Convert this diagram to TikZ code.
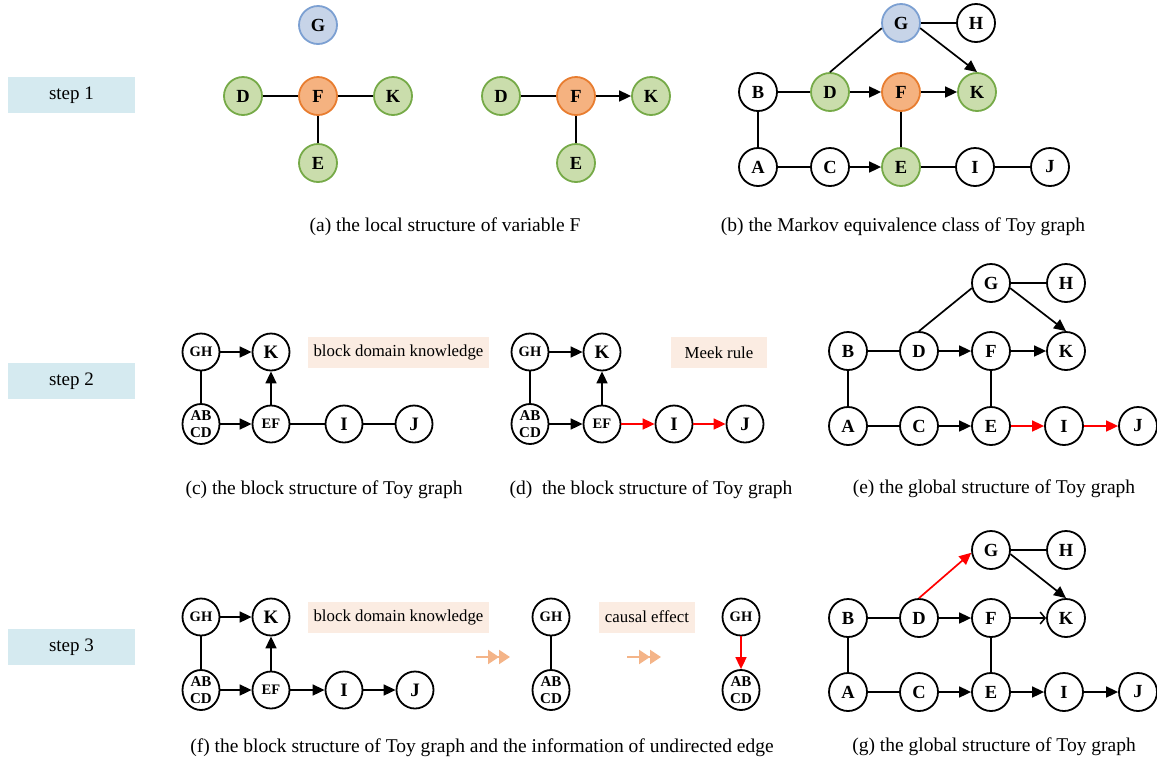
\documentclass[tikz,border=0pt]{standalone}
\usepackage{fontspec}
\setmainfont{Liberation Serif}
\usetikzlibrary{arrows.meta,shapes.geometric}
\definecolor{grfill}{RGB}{202,221,172}
\definecolor{grline}{RGB}{118,170,72}
\definecolor{orfill}{RGB}{245,178,128}
\definecolor{orline}{RGB}{232,125,48}
\definecolor{blfill}{RGB}{199,212,232}
\definecolor{blline}{RGB}{124,160,210}
\definecolor{stepfill}{RGB}{213,234,240}
\definecolor{peach}{RGB}{251,236,226}
\definecolor{orarrow}{RGB}{244,180,136}
\tikzset{
  nd/.style={circle,draw=black,fill=white,line width=1.8pt,minimum size=38pt,inner sep=0pt,
    font=\bfseries\fontsize{18.5}{18.5}\selectfont},
  bn/.style={circle,draw=black,fill=white,line width=1.8pt,minimum size=37pt,inner sep=0pt,
    font=\bfseries\fontsize{14.5}{14.5}\selectfont},
  bk/.style={bn,font=\bfseries\fontsize{19}{19}\selectfont},
  bab/.style={ellipse,draw=black,fill=white,line width=1.8pt,minimum width=37pt,minimum height=40pt,inner sep=0pt,
    font=\bfseries\fontsize{15}{16.5}\selectfont,align=center},
  gr/.style={fill=grfill,draw=grline},
  orn/.style={fill=orfill,draw=orline},
  bln/.style={fill=blfill,draw=blline},
  ln/.style={line width=1.7pt},
  ar/.style={ln,-{Triangle[length=12pt,width=11pt]}},
  oa/.style={ln,-{Straight Barb[length=5pt,width=12pt,line width=1.5pt]}},
  rar/.style={ar,red},
  stepbox/.style={fill=stepfill,minimum width=127pt,minimum height=36pt,inner sep=0pt,
    font=\fontsize{19}{19}\selectfont},
  infobox/.style={fill=peach,minimum height=31pt,inner sep=0pt,font=\fontsize{16.8}{16.8}\selectfont},
  captxt/.style={font=\fontsize{19.5}{19.5}\selectfont,inner sep=0pt},
  orar/.style={draw=orarrow,line width=2.2pt,-{Triangle[length=11pt,width=14pt,fill=orarrow]Triangle[length=11pt,width=14pt,fill=orarrow]}}
}
\begin{document}
\begin{tikzpicture}[x=1pt,y=-1pt]
\useasboundingbox (0,0) rectangle (1157,761);
% step boxes
\node[stepbox] (s1) at (71.5,95) {step 1};
\node[stepbox] (s2) at (71.5,381) {step 2};
\node[stepbox] (s3) at (71.5,647) {step 3};

% ---------- (a)
\node[nd,bln] (aG) at (318,25) {G};
\node[nd,gr] (aD) at (243,96) {D};
\node[nd,orn] (aF) at (318,96) {F};
\node[nd,gr] (aK) at (393,96) {K};
\node[nd,gr] (aE) at (318,163) {E};
\draw[ln] (aD) -- (aF);
\draw[ln] (aF) -- (aK);
\draw[ln] (aF) -- (aE);
\node[nd,gr] (a2D) at (501,96) {D};
\node[nd,orn] (a2F) at (576,96) {F};
\node[nd,gr] (a2K) at (651,96) {K};
\node[nd,gr] (a2E) at (576,163) {E};
\draw[ln] (a2D) -- (a2F);
\draw[ar] (a2F) -- (a2K);
\draw[ln] (a2F) -- (a2E);
\node[captxt] (capa) at (445,227) {(a) the local structure of variable F};

% ---------- (b)
\node[nd,bln] (bG) at (901,23) {G};
\node[nd] (bH) at (976,23) {H};
\node[nd] (bB) at (758,92) {B};
\node[nd,gr] (bD) at (830,92) {D};
\node[nd,orn] (bF) at (901,92) {F};
\node[nd,gr] (bK) at (977,92) {K};
\node[nd] (bA) at (758,167) {A};
\node[nd] (bC) at (830,167) {C};
\node[nd,gr] (bE) at (901,167) {E};
\node[nd] (bI) at (975,167) {I};
\node[nd] (bJ) at (1050,167) {J};
\draw[ln] (bG) -- (bH);
\draw[ln] (bD.north) -- (bG.195);
\draw[ar] (bG.-15) -- (bK.north);
\draw[ln] (bB) -- (bD);
\draw[ar] (bD) -- (bF);
\draw[ar] (bF) -- (bK);
\draw[ln] (bB) -- (bA);
\draw[ln] (bF) -- (bE);
\draw[ln] (bA) -- (bC);
\draw[ar] (bC) -- (bE);
\draw[ln] (bE) -- (bI);
\draw[ln] (bI) -- (bJ);
\node[captxt] (capb) at (903,227) {(b) the Markov equivalence class of Toy graph};

% ---------- (c)
\node[bn] (cGH) at (201,352) {GH};
\node[bk] (cK) at (271,352) {K};
\node[bab] (cAB) at (201,424) {AB\\CD};
\node[bn] (cEF) at (271,424) {EF};
\node[bk] (cI) at (344,424) {I};
\node[bk] (cJ) at (414,424) {J};
\draw[ar] (cGH) -- (cK);
\draw[ln] (cGH) -- (cAB);
\draw[ar] (cAB) -- (cEF);
\draw[ar] (cEF) -- (cK);
\draw[ln] (cEF) -- (cI);
\draw[ln] (cI) -- (cJ);
\node[infobox,minimum width=181pt] (cbox) at (398.5,352.5) {block domain knowledge};
\node[captxt] (capc) at (324,490) {(c) the block structure of Toy graph};

% ---------- (d)
\node[bn] (dGH) at (530,352) {GH};
\node[bk] (dK) at (602,352) {K};
\node[bab] (dAB) at (530,424) {AB\\CD};
\node[bn] (dEF) at (602,424) {EF};
\node[bk] (dI) at (674,424) {I};
\node[bk] (dJ) at (745,424) {J};
\draw[ar] (dGH) -- (dK);
\draw[ln] (dGH) -- (dAB);
\draw[ar] (dAB) -- (dEF);
\draw[ar] (dEF) -- (dK);
\draw[rar] (dEF) -- (dI);
\draw[rar] (dI) -- (dJ);
\node[infobox,minimum width=96pt] (dbox) at (719,352.5) {Meek rule};
\node[captxt] (capd) at (651,490) {(d)\ \ the block structure of Toy graph};

% ---------- (e)
\node[nd] (eG) at (991,283) {G};
\node[nd] (eH) at (1066,283) {H};
\node[nd] (eB) at (848,351) {B};
\node[nd] (eD) at (919,351) {D};
\node[nd] (eF) at (991,351) {F};
\node[nd] (eK) at (1066,351) {K};
\node[nd] (eA) at (848,426) {A};
\node[nd] (eC) at (919,426) {C};
\node[nd] (eE) at (991,426) {E};
\node[nd] (eI) at (1064,426) {I};
\node[nd] (eJ) at (1138,426) {J};
\draw[ln] (eG) -- (eH);
\draw[ln] (eD.north) -- (eG.195);
\draw[ar] (eG.-15) -- (eK.north);
\draw[ln] (eB) -- (eD);
\draw[ar] (eD) -- (eF);
\draw[ar] (eF) -- (eK);
\draw[ln] (eB) -- (eA);
\draw[ln] (eF) -- (eE);
\draw[ln] (eA) -- (eC);
\draw[ar] (eC) -- (eE);
\draw[rar] (eE) -- (eI);
\draw[rar] (eI) -- (eJ);
\node[captxt] (cape) at (994,489) {(e) the global structure of Toy graph};

% ---------- (f)
\node[bn] (fGH) at (201,617) {GH};
\node[bk] (fK) at (271,617) {K};
\node[bab] (fAB) at (201,690) {AB\\CD};
\node[bn] (fEF) at (271,690) {EF};
\node[bk] (fI) at (344,690) {I};
\node[bk] (fJ) at (415,690) {J};
\draw[ar] (fGH) -- (fK);
\draw[ln] (fGH) -- (fAB);
\draw[ar] (fAB) -- (fEF);
\draw[ar] (fEF) -- (fK);
\draw[ar] (fEF) -- (fI);
\draw[ar] (fI) -- (fJ);
\node[infobox,minimum width=181pt] (fbox) at (398.5,617) {block domain knowledge};
\coordinate (o1s) at (476,657);
\coordinate (o1e) at (510,657);
\draw[orar] (o1s) -- (o1e);
\node[bn] (mGH) at (551,617) {GH};
\node[bab] (mAB) at (551,690) {AB\\CD};
\draw[ln] (mGH) -- (mAB);
\node[infobox,minimum width=96pt] (mbox) at (647,617) {causal effect};
\coordinate (o2s) at (627,657);
\coordinate (o2e) at (661,657);
\draw[orar] (o2s) -- (o2e);
\node[bn] (rGH) at (741,617) {GH};
\node[bab] (rAB) at (741,690) {AB\\CD};
\draw[rar] (rGH) -- (rAB);
\node[captxt] (capf) at (482,748) {(f) the block structure of Toy graph and the information of undirected edge};

% ---------- (g)
\node[nd] (gG) at (991,550) {G};
\node[nd] (gH) at (1066,550) {H};
\node[nd] (gB) at (848,618) {B};
\node[nd] (gD) at (919,618) {D};
\node[nd] (gF) at (991,618) {F};
\node[nd] (gK) at (1066,618) {K};
\node[nd] (gA) at (848,692) {A};
\node[nd] (gC) at (919,692) {C};
\node[nd] (gE) at (991,692) {E};
\node[nd] (gI) at (1064,692) {I};
\node[nd] (gJ) at (1138,692) {J};
\draw[ln] (gG) -- (gH);
\draw[rar] (gD.north) -- (gG.188);
\draw[ar] (gG.-12) -- (gK.north);
\draw[ln] (gB) -- (gD);
\draw[ar] (gD) -- (gF);
\draw[oa] (gF) -- (gK);
\draw[ln] (gB) -- (gA);
\draw[ln] (gF) -- (gE);
\draw[ln] (gA) -- (gC);
\draw[ar] (gC) -- (gE);
\draw[ar] (gE) -- (gI);
\draw[ar] (gI) -- (gJ);
\node[captxt] (capg) at (994,747) {(g) the global structure of Toy graph};
\end{tikzpicture}
\end{document}
